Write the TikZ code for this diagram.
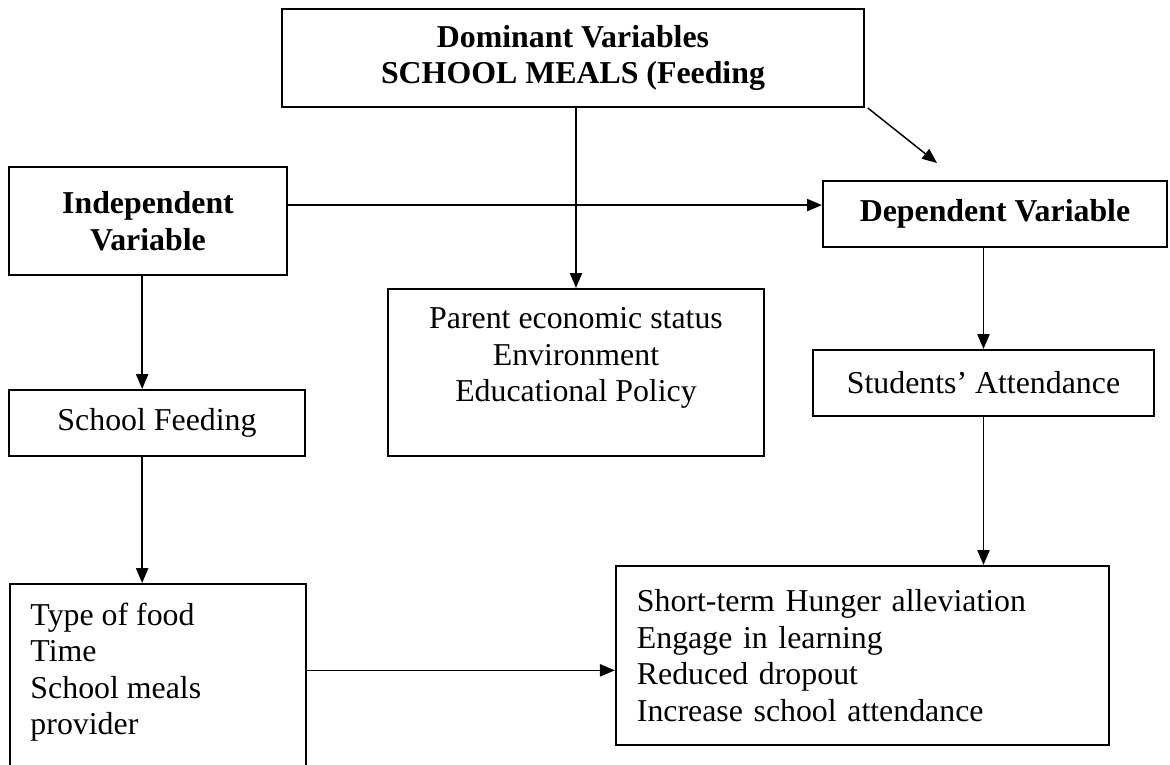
\documentclass[tikz,border=0pt]{standalone}
\usepackage{fontspec}
\setmainfont{Liberation Serif}
\usetikzlibrary{arrows.meta}

\begin{document}
\begin{tikzpicture}[x=0.01325cm, y=-0.01325cm, font=\fontsize{12}{13.8}\selectfont]
        \tikzset{
            box/.style={draw=black, line width=0.75pt, inner sep=0pt, align=center},
            headbox/.style={box, font=\fontsize{12}{13.8}\selectfont\bfseries},
            plaintext/.style={inner sep=0pt, align=left},
            arr/.style={-{Triangle[length=5.6pt, width=4.6pt]}, draw=black, line width=0.55pt}
        }

        \useasboundingbox (0,0) rectangle (1170,765);
        \clip (0,0) rectangle (1170,765);

        \node[headbox, minimum width=219.4pt, minimum height=36.9pt] (dom) at (573,58)
            {Dominant Variables\\SCHOOL MEALS (Feeding};
        \node[headbox, minimum width=104.8pt, minimum height=40.7pt] (indep) at (148,221)
            {Independent\\Variable};
        \node[headbox, minimum width=129.7pt, minimum height=24.9pt] (dep) at (995,214)
            {Dependent Variable};

        \node[box, minimum width=111.6pt, minimum height=24.9pt] (sf) at (157,423) {School Feeding};
        \node[box, minimum width=128.6pt, minimum height=24.9pt] (att) at (983.5,383) {Students' Attendance};

        % middle box, text sits near the top
        \node[box, minimum width=141.8pt, minimum height=63pt] (par) at (576,372.5) {};
        \node[plaintext, align=center, anchor=north] (partext) at ([yshift=-7.2pt]par.north)
            {Parent economic status\\Environment\\Educational Policy};

        % lower left box runs past the page edge
        \node[box, anchor=north west, minimum width=111.6pt, minimum height=94pt] (tof) at (9,583) {};
        \node[plaintext, anchor=north west] (toftext) at ([xshift=7.9pt, yshift=-7.2pt]tof.north west)
            {Type of food\\Time\\School meals\\provider};

        \node[box, align=left, text width=170pt, inner xsep=7.9pt, minimum width=185.9pt, minimum height=67.5pt] (st) at (862.5,655.5)
            {Short-term Hunger alleviation\\Engage in learning\\Reduced dropout\\Increase school attendance};

        \coordinate (depin) at (937,163);

        \draw[arr] (dom.south -| par.north) -- (par.north);
        \draw[arr] ([xshift=1pt]dom.south east) -- (depin);
        \draw[arr] ([yshift=6pt]indep.east) -- ([yshift=6pt]indep.east -| dep.west);
        \draw[arr] ([xshift=-2.2pt]indep.south) -- ([xshift=-2.2pt]indep.south |- sf.north);
        \draw[arr] ([xshift=-5.6pt]sf.south) -- ([xshift=-5.6pt]sf.south |- tof.north);
        \draw[arr] ([yshift=-5.6pt]st.west -| tof.east) -- ([yshift=-5.6pt]st.west);
        \draw[arr] (dep.south -| att.north) -- (att.north);
        \draw[arr] (att.south) -- (att.south |- st.north);
    \end{tikzpicture}
\end{document}
